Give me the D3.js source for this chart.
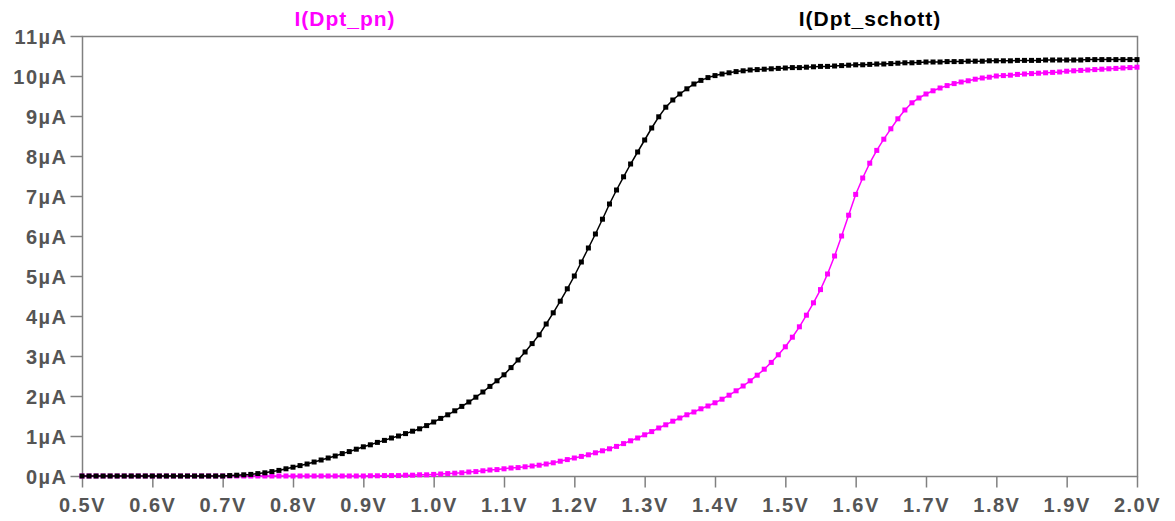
<!DOCTYPE html>
<html>
  <head>
    <meta charset="UTF-8">
    <script src="https://cdn.jsdelivr.net/npm/d3@7/dist/d3.min.js"></script>
    <style>
      body { margin: 0; background: #fff; }
      text { font-family: "Liberation Sans", Arial, sans-serif; font-weight: bold; }
    </style>
  </head>
  <body>
    <script>
      // sweep: 0.50V .. 2.00V in 0.01V steps
      var vStart = 0.5, vStep = 0.01;

      // I(Dpt_schott) in uA, one value per step
      var schott = [
        0,0,0,0,0,0,0,0,0,0, 0,0,0,0,0,0,0,0,0,0,          // 0.50-0.69
        0,0.01,0.02,0.03,0.04,0.06,0.08,0.11,0.14,0.18,     // 0.70-0.79
        0.22,0.26,0.30,0.35,0.40,0.45,0.50,0.56,0.61,0.67,  // 0.80-0.89
        0.73,0.78,0.84,0.89,0.95,1.00,1.06,1.12,1.18,1.26,  // 0.90-0.99
        1.35,1.44,1.53,1.63,1.74,1.85,1.97,2.10,2.24,2.38,  // 1.00-1.09
        2.53,2.71,2.90,3.10,3.31,3.53,3.80,4.08,4.37,4.68,  // 1.10-1.19
        5.00,5.35,5.70,6.05,6.42,6.80,7.15,7.48,7.80,8.10,  // 1.20-1.29
        8.40,8.70,8.98,9.22,9.40,9.55,9.68,9.80,9.89,9.96,  // 1.30-1.39
        10.01,10.05,10.08,10.11,10.13,10.15,10.16,10.17,10.18,10.19, // 1.40-1.49
        10.20,10.21,10.21,10.22,10.23,10.24,10.24,10.25,10.26,10.27, // 1.50-1.59
        10.28,10.28,10.29,10.30,10.30,10.31,10.32,10.33,10.33,10.34, // 1.60-1.69
        10.35,10.35,10.35,10.36,10.36,10.36,10.37,10.37,10.37,10.38, // 1.70-1.79
        10.38,10.38,10.38,10.39,10.39,10.39,10.39,10.40,10.40,10.40, // 1.80-1.89
        10.40,10.40,10.40,10.41,10.41,10.41,10.41,10.41,10.41,10.41, // 1.90-1.99
        10.41                                                         // 2.00
      ];

      // I(Dpt_pn) in uA
      var pn = [
        0,0,0,0,0,0,0,0,0,0, 0,0,0,0,0,0,0,0,0,0,          // 0.50-0.69
        0,0,0,0,0,0,0,0,0,0, 0,0,0,0,0,0,0,0,0,0,          // 0.70-0.89
        0,0.005,0.005,0.01,0.01,0.01,0.02,0.02,0.03,0.03,   // 0.90-0.99
        0.04,0.05,0.06,0.07,0.08,0.10,0.11,0.13,0.15,0.16,  // 1.00-1.09
        0.18,0.20,0.21,0.23,0.25,0.27,0.30,0.33,0.37,0.41,  // 1.10-1.19
        0.45,0.49,0.53,0.58,0.63,0.68,0.74,0.81,0.88,0.95,  // 1.20-1.29
        1.03,1.11,1.20,1.28,1.37,1.45,1.53,1.60,1.68,1.75,  // 1.30-1.39
        1.83,1.92,2.02,2.13,2.25,2.38,2.52,2.67,2.84,3.03,  // 1.40-1.49
        3.23,3.47,3.73,4.02,4.33,4.66,5.05,5.50,6.00,6.52,  // 1.50-1.59
        7.04,7.45,7.82,8.14,8.42,8.68,8.93,9.15,9.33,9.45,  // 1.60-1.69
        9.55,9.63,9.70,9.76,9.81,9.85,9.88,9.92,9.95,9.97,  // 1.70-1.79
        10.00,10.01,10.02,10.04,10.05,10.06,10.07,10.08,10.09,10.10, // 1.80-1.89
        10.12,10.13,10.14,10.15,10.16,10.17,10.18,10.19,10.20,10.21, // 1.90-1.99
        10.22                                                         // 2.00
      ];

      var xTicks = [0.5,0.6,0.7,0.8,0.9,1.0,1.1,1.2,1.3,1.4,1.5,1.6,1.7,1.8,1.9,2.0];
      var yTicks = [0,1,2,3,4,5,6,7,8,9,10,11];

      var width = 1175, height = 521;
      var plotLeft = 82, plotRight = 1137, plotTop = 36, plotBottom = 476;
      var grey = '#808080', textGrey = '#555555';

      var svg = d3.select('body').append('svg')
          .attr('width', width)
          .attr('height', height);

      var x = d3.scaleLinear().domain([0.5, 2.0]).range([plotLeft, plotRight]);
      var y = d3.scaleLinear().domain([0, 11]).range([plotBottom, plotTop]);

      // frame
      svg.append('rect')
          .attr('x', plotLeft + 0.5).attr('y', plotTop + 0.5)
          .attr('width', plotRight - plotLeft).attr('height', plotBottom - plotTop)
          .attr('fill', 'none').attr('stroke', grey).attr('stroke-width', 1.5);

      // x axis
      var xAxis = d3.axisBottom(x)
          .tickValues(xTicks)
          .tickSize(11)
          .tickPadding(10)
          .tickFormat(function(d){ return d3.format('.1f')(d) + 'V'; });
      var gx = svg.append('g').attr('transform', 'translate(0,' + (plotBottom + 0.5) + ')').call(xAxis);

      // y axis
      var yAxis = d3.axisLeft(y)
          .tickValues(yTicks)
          .tickSize(12)
          .tickPadding(3)
          .tickFormat(function(d){ return d + '\u00b5A'; });
      var gy = svg.append('g').attr('transform', 'translate(' + (plotLeft + 0.5) + ',0)').call(yAxis);

      [gx, gy].forEach(function(g){
        g.select('.domain').remove();
        g.selectAll('line').attr('stroke', grey).attr('stroke-width', 1.5);
        g.selectAll('text')
            .attr('fill', textGrey)
            .style('font-size', '20px')
            .style('letter-spacing', '1.5px');
      });
      gx.selectAll('text').attr('dy', '0.71em');
      gy.selectAll('text').attr('dy', '0.36em');

      // legend labels
      svg.append('text').attr('x', 345).attr('y', 26)
          .attr('text-anchor', 'middle').attr('fill', '#ff00ff')
          .style('font-size', '21px').style('letter-spacing', '1px')
          .text('I(Dpt_pn)');
      svg.append('text').attr('x', 870).attr('y', 26)
          .attr('text-anchor', 'middle').attr('fill', '#000000')
          .style('font-size', '21px').style('letter-spacing', '1px')
          .text('I(Dpt_schott)');

      var line = d3.line()
          .x(function(d, i){ return x(vStart + i * vStep); })
          .y(function(d){ return y(d); });

      function drawTrace(values, color) {
        svg.append('path')
            .datum(values)
            .attr('d', line)
            .attr('fill', 'none')
            .attr('stroke', color)
            .attr('stroke-width', 1.5);
        svg.append('g').selectAll('rect')
            .data(values)
            .enter()
            .append('rect')
            .attr('x', function(d, i){ return x(vStart + i * vStep) - 2.5; })
            .attr('y', function(d){ return y(d) - 2.5; })
            .attr('width', 5)
            .attr('height', 5)
            .attr('fill', color);
      }

      drawTrace(pn, '#ff00ff');
      drawTrace(schott, '#000000');
    </script>
  </body>
</html>
